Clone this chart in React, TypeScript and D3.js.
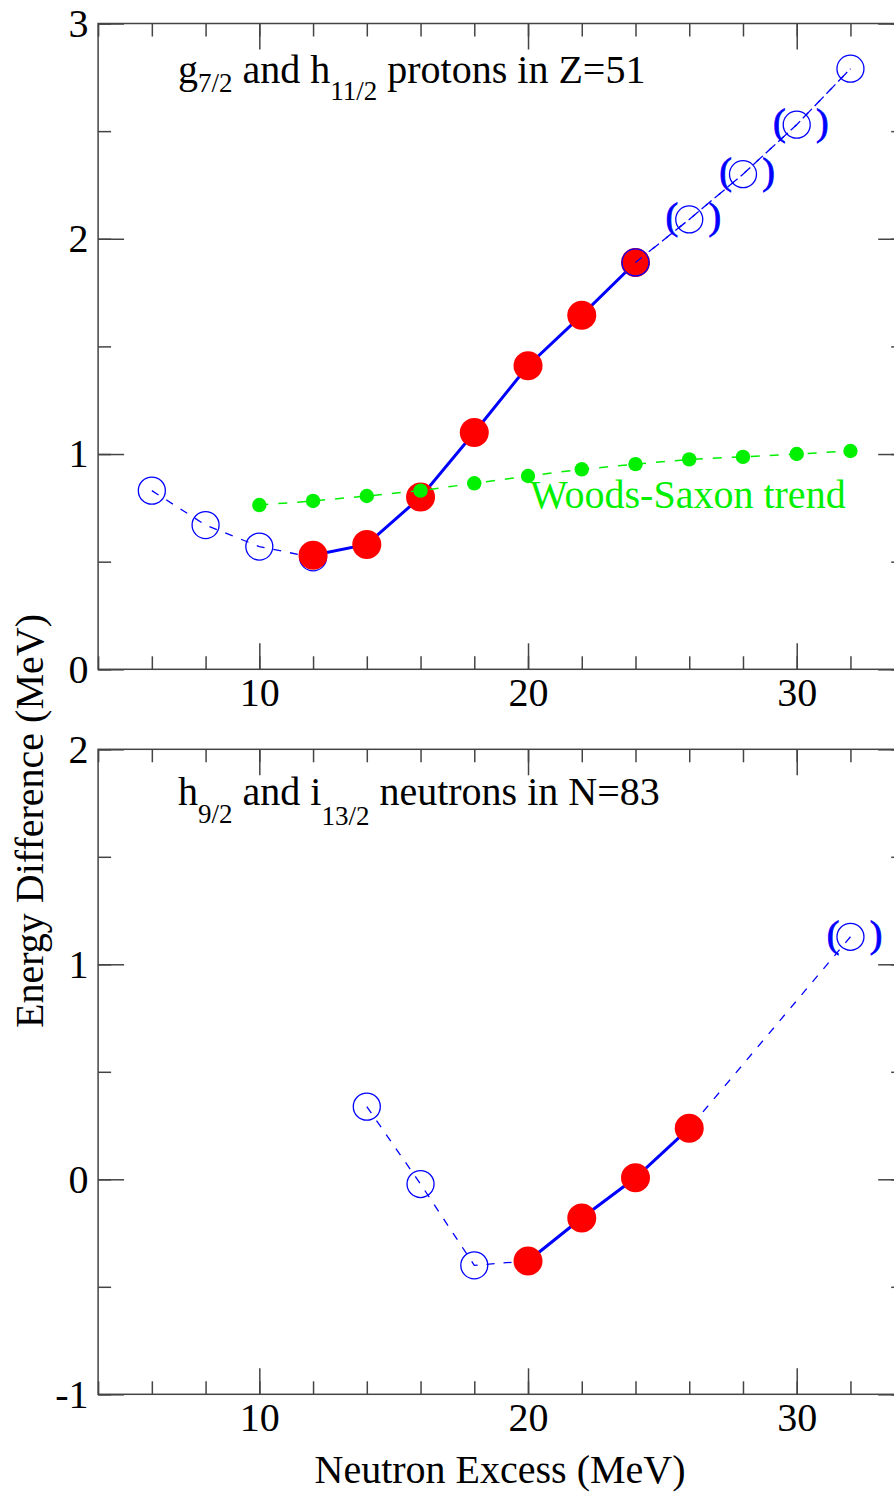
import { useEffect, useRef } from "react";
import * as d3 from "d3";

const W = 894;
const H = 1494;
const FONT = "'Liberation Serif', 'Times New Roman', serif";

// upper panel: g7/2 and h11/2 protons in Z=51
const topOpenX = [6, 8, 10, 12, 24, 26, 28, 30, 32];
const topOpenY = [0.83, 0.67, 0.57, 0.52, 1.89, 2.09, 2.3, 2.53, 2.79];
const topFilledX = [12, 14, 16, 18, 20, 22, 24];
const topFilledY = [0.53, 0.58, 0.8, 1.1, 1.41, 1.645, 1.89];
const topParenX = [26, 28, 30];
const wsX = [10, 12, 14, 16, 18, 20, 22, 24, 26, 28, 30, 32];
const wsY = [0.763, 0.782, 0.805, 0.83, 0.864, 0.898, 0.929, 0.953, 0.975, 0.987, 1.0, 1.014];

// lower panel: h9/2 and i13/2 neutrons in N=83
const botOpenX = [14, 16, 18, 32];
const botOpenY = [0.338, -0.022, -0.4, 1.128];
const botFilledX = [20, 22, 24, 26];
const botFilledY = [-0.38, -0.18, 0.007, 0.238];
const botParenX = [32];

const xDomain = [4, 34];
const xMajor = [10, 20, 30];
const topYDomain = [0, 3];
const topYMajor = [0, 1, 2, 3];
const botYDomain = [-1, 2];
const botYMajor = [-1, 0, 1, 2];

type Pt = [number, number];
const zip = (xs: number[], ys: number[]): Pt[] => xs.map((x, i) => [x, ys[i]]);

const App = () => {
  const svgRef = useRef<SVGSVGElement>(null);

  useEffect(() => {
    const svg = d3.select(svgRef.current);
    svg.selectAll("*").remove();

    const x = d3.scaleLinear().domain(xDomain).range([98.1, 904.2]);
    const xMinor = d3.range(xDomain[0], xDomain[1] + 1, 2);
    const plain = (d: d3.NumberValue) => String(d);

    const drawPanel = (
      y: d3.ScaleLinear<number, number>,
      yMajor: number[],
      openPts: Pt[],
      filledPts: Pt[],
      parenX: number[],
      ws: Pt[] | null
    ) => {
      const g = svg.append("g");
      const [y0, y1] = y.range();
      const [xl, xr] = x.range();

      const styleAxis = (a: d3.Selection<SVGGElement, unknown, null, undefined>) => {
        a.select(".domain").remove();
        a.attr("font-size", 40).attr("font-family", FONT);
        a.selectAll("line").attr("stroke", "#444").attr("stroke-width", 1.5);
        a.selectAll("text").attr("fill", "#000");
      };

      // bottom
      g.append("g").attr("transform", `translate(0,${y0})`)
        .call(d3.axisBottom(x).tickValues(xMinor).tickSize(-13).tickFormat(() => ""))
        .call(styleAxis);
      g.append("g").attr("transform", `translate(0,${y0})`)
        .call(d3.axisBottom(x).tickValues(xMajor).tickSize(-26).tickPadding(8.6).tickFormat(plain))
        .call(styleAxis);
      // top
      g.append("g").attr("transform", `translate(0,${y1})`)
        .call(d3.axisTop(x).tickValues(xMinor).tickSize(-13).tickFormat(() => ""))
        .call(styleAxis);
      g.append("g").attr("transform", `translate(0,${y1})`)
        .call(d3.axisTop(x).tickValues(xMajor).tickSize(-26).tickFormat(() => ""))
        .call(styleAxis);

      const yDom = y.domain();
      const yMinor = d3.range(yDom[0], yDom[1] + 0.01, 0.5);
      // left
      g.append("g").attr("transform", `translate(${xl},0)`)
        .call(d3.axisLeft(y).tickValues(yMinor).tickSize(-13).tickFormat(() => ""))
        .call(styleAxis);
      g.append("g").attr("transform", `translate(${xl},0)`)
        .call(d3.axisLeft(y).tickValues(yMajor).tickSize(-26).tickPadding(9.5).tickFormat(plain))
        .call(styleAxis);
      // right
      g.append("g").attr("transform", `translate(${xr},0)`)
        .call(d3.axisRight(y).tickValues(yMinor).tickSize(-13).tickFormat(() => ""))
        .call(styleAxis);
      g.append("g").attr("transform", `translate(${xr},0)`)
        .call(d3.axisRight(y).tickValues(yMajor).tickSize(-26).tickFormat(() => ""))
        .call(styleAxis);

      g.append("rect")
        .attr("x", xl).attr("y", y1)
        .attr("width", xr - xl).attr("height", y0 - y1)
        .attr("fill", "none").attr("stroke", "#444").attr("stroke-width", 1.5);

      const line = d3.line<Pt>().x((d) => x(d[0])).y((d) => y(d[1]));
      const lastFilled = filledPts[filledPts.length - 1][0];
      const allPts = [...openPts, ...filledPts].sort((a, b) => a[0] - b[0]);
      const under = openPts.filter((d) => d[0] < lastFilled);
      const over = openPts.filter((d) => d[0] >= lastFilled);

      // dashed guide through all points
      g.append("path").attr("d", line(allPts)).attr("fill", "none")
        .attr("stroke", "#0000ff").attr("stroke-width", 1.3).attr("stroke-dasharray", "8,9");

      g.append("g").selectAll("circle").data(under).join("circle")
        .attr("cx", (d) => x(d[0])).attr("cy", (d) => y(d[1])).attr("r", 13.5)
        .attr("fill", "none").attr("stroke", "#0000ff").attr("stroke-width", 1.3);

      g.append("path").attr("d", line(filledPts)).attr("fill", "none")
        .attr("stroke", "#0000ff").attr("stroke-width", 3);

      g.append("g").selectAll("circle").data(filledPts).join("circle")
        .attr("cx", (d) => x(d[0])).attr("cy", (d) => y(d[1])).attr("r", 14.5)
        .attr("fill", "#ff0000");

      if (over.length > 1) {
        g.append("path").attr("d", line(over)).attr("fill", "none")
          .attr("stroke", "#0000ff").attr("stroke-width", 1.3).attr("stroke-dasharray", "8,9");
      }
      g.append("g").selectAll("circle").data(over).join("circle")
        .attr("cx", (d) => x(d[0])).attr("cy", (d) => y(d[1])).attr("r", 13.5)
        .attr("fill", "none").attr("stroke", "#0000ff").attr("stroke-width", 1.3);

      const parens = openPts.filter((d) => parenX.includes(d[0]));
      const pg = g.append("g").attr("font-family", FONT).attr("font-size", 38)
        .attr("fill", "#0000ff").attr("stroke", "#0000ff").attr("stroke-width", 0.8)
        .attr("text-anchor", "middle");
      parens.forEach((d) => {
        pg.append("text").attr("x", x(d[0]) - 17.5).attr("y", y(d[1]) + 10).text("(");
        pg.append("text").attr("x", x(d[0]) + 25.5).attr("y", y(d[1]) + 10).text(")");
      });

      if (ws) {
        g.append("path").attr("d", line(ws)).attr("fill", "none")
          .attr("stroke", "#00f000").attr("stroke-width", 1.5).attr("stroke-dasharray", "9,10");
        g.append("g").selectAll("circle").data(ws).join("circle")
          .attr("cx", (d) => x(d[0])).attr("cy", (d) => y(d[1])).attr("r", 7.2)
          .attr("fill", "#00f000");
      }
      return g;
    };

    const yTop = d3.scaleLinear().domain(topYDomain).range([669.3, 23.5]);
    const yBot = d3.scaleLinear().domain(botYDomain).range([1394.3, 749.3]);

    const gt = drawPanel(yTop, topYMajor, zip(topOpenX, topOpenY), zip(topFilledX, topFilledY), topParenX, zip(wsX, wsY));
    drawPanel(yBot, botYMajor, zip(botOpenX, botOpenY), zip(botFilledX, botFilledY), botParenX, null);

    gt.append("text")
      .attr("x", 530).attr("y", 508)
      .attr("font-family", FONT).attr("font-size", 40).attr("fill", "#00f000")
      .text("Woods-Saxon trend");

    // panel titles with subscripts
    const t1 = svg.append("text").attr("x", 178).attr("y", 83)
      .attr("font-family", FONT).attr("font-size", 40).attr("fill", "#000");
    t1.append("tspan").text("g");
    t1.append("tspan").attr("font-size", 27).attr("dy", 9).text("7/2");
    t1.append("tspan").attr("dy", -9).text(" and h");
    t1.append("tspan").attr("font-size", 27).attr("dy", 17).text("11/2");
    t1.append("tspan").attr("dy", -17).text(" protons in Z=51");

    const t2 = svg.append("text").attr("x", 178).attr("y", 805)
      .attr("font-family", FONT).attr("font-size", 40).attr("fill", "#000");
    t2.append("tspan").text("h");
    t2.append("tspan").attr("font-size", 27).attr("dy", 18).text("9/2");
    t2.append("tspan").attr("dy", -18).text(" and i");
    t2.append("tspan").attr("font-size", 27).attr("dy", 20).text("13/2");
    t2.append("tspan").attr("dy", -20).text(" neutrons in N=83");

    svg.append("text")
      .attr("transform", "translate(43,821) rotate(-90)")
      .attr("text-anchor", "middle")
      .attr("font-family", FONT).attr("font-size", 40).attr("fill", "#000")
      .text("Energy Difference (MeV)");

    svg.append("text")
      .attr("x", 500).attr("y", 1483)
      .attr("text-anchor", "middle")
      .attr("font-family", FONT).attr("font-size", 40).attr("fill", "#000")
      .text("Neutron Excess (MeV)");
  }, []);

  return (
    <svg
      ref={svgRef}
      width={W}
      height={H}
      style={{ position: "absolute", left: 0, top: 0, background: "#fff" }}
    />
  );
};

export default App;
